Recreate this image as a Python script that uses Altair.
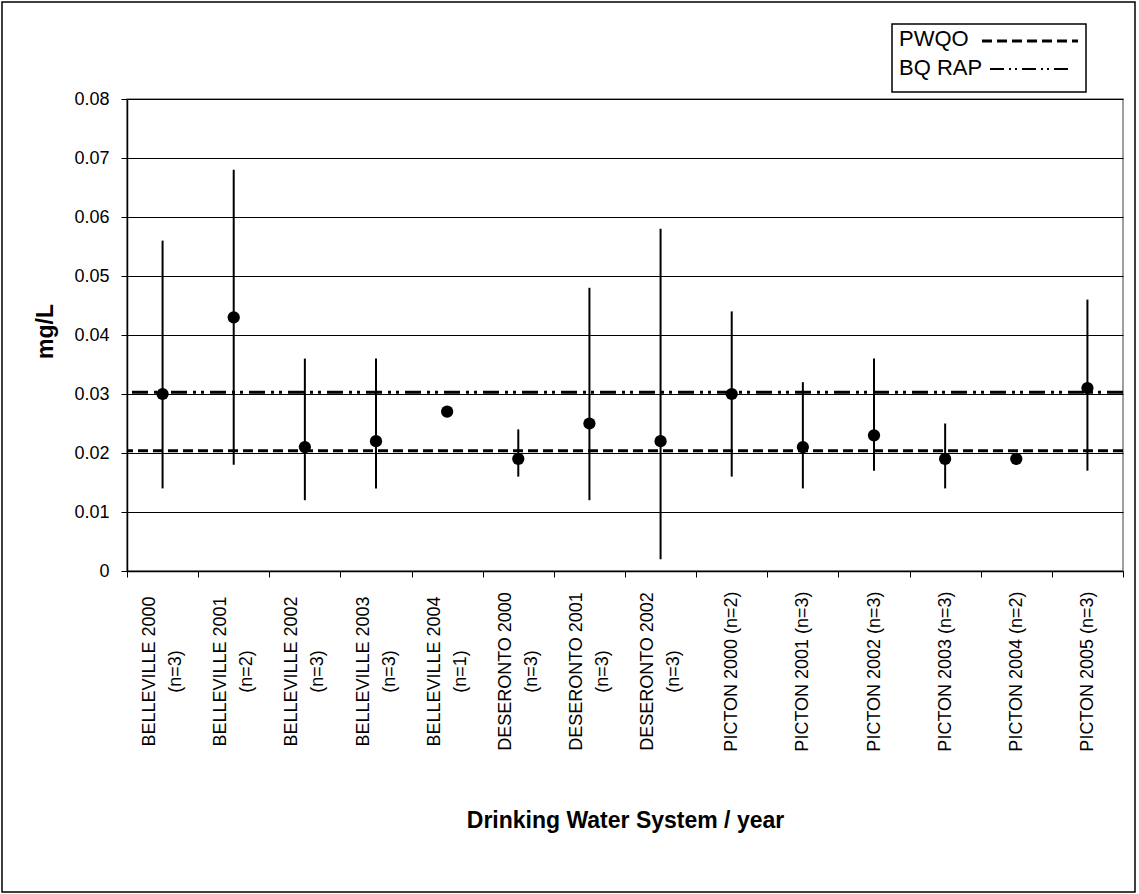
import altair as alt
import pandas as pd

categories = [
    "BELLEVILLE 2000|(n=3)", "BELLEVILLE 2001|(n=2)", "BELLEVILLE 2002|(n=3)",
    "BELLEVILLE 2003|(n=3)", "BELLEVILLE 2004|(n=1)", "DESERONTO 2000|(n=3)",
    "DESERONTO 2001|(n=3)", "DESERONTO 2002|(n=3)", "PICTON 2000 (n=2)",
    "PICTON 2001 (n=3)", "PICTON 2002 (n=3)", "PICTON 2003 (n=3)",
    "PICTON 2004 (n=2)", "PICTON 2005 (n=3)",
]
means = [0.030, 0.043, 0.021, 0.022, 0.027, 0.019, 0.025, 0.022,
         0.030, 0.021, 0.023, 0.019, 0.019, 0.031]
lows = [0.014, 0.018, 0.012, 0.014, None, 0.016, 0.012, 0.002,
        0.016, 0.014, 0.017, 0.014, 0.018, 0.017]
highs = [0.056, 0.068, 0.036, 0.036, None, 0.024, 0.048, 0.058,
         0.044, 0.032, 0.036, 0.025, 0.020, 0.046]

ref_names = ["PWQO", "BQ RAP"]
ref_values = [0.0204, 0.0303]
y_ticks = [0, 0.01, 0.02, 0.03, 0.04, 0.05, 0.06, 0.07, 0.08]

FONT = "Liberation Sans"
W, H = 996, 472

df = pd.DataFrame({"cat": categories, "mean": means, "lo": lows, "hi": highs})
df_err = df.dropna(subset=["lo", "hi"])

x_enc = alt.X(
    "cat:N", sort=categories,
    scale=alt.Scale(paddingInner=0, paddingOuter=0),
    axis=alt.Axis(
        title="Drinking Water System / year",
        labelExpr="split(datum.label, '|')",
        labelAngle=-90, labelAlign="center", labelBaseline="middle",
        labelOffset=alt.condition("indexof(datum.label, '|') >= 0", alt.value(-13), alt.value(0)),
        labelPadding=94, labelFontSize=18, labelLineHeight=26,
        labelLimit=400, labelOverlap=False, labelFlush=False,
        labelColor="black", labelFont=FONT,
        tickBand="extent", tickSize=6, tickColor="black",
        domainColor="black", domainWidth=1.5,
        titleFont=FONT, titleFontSize=23, titleFontWeight="bold",
        titleColor="black", titleY=249, titleBaseline="middle",
        grid=False,
    ),
)
y_scale = alt.Scale(domain=[0, 0.08], nice=False, zero=True)
y_axis = alt.Axis(
    title="mg/L", values=y_ticks,
    labelExpr="datum.value == 0 ? '0' : format(datum.value, '.2f')",
    labelFont=FONT, labelFontSize=18, labelColor="black", labelPadding=12,
    tickSize=6, tickColor="black", domainColor="black", domainWidth=1.5,
    grid=True, gridColor="black", gridWidth=1,
    titleFont=FONT, titleFontSize=23, titleFontWeight="bold", titleColor="black",
    titleX=-82, titleY=232, titleAngle=270, titleAlign="center",
    titleBaseline="middle",
)

base = alt.Chart(df)

errbars = alt.Chart(df_err).mark_rule(color="black", strokeWidth=2).encode(
    x=x_enc,
    y=alt.Y("lo:Q", scale=y_scale, axis=y_axis),
    y2="hi:Q",
)

points = base.mark_point(filled=True, shape="circle", size=150, color="black", opacity=1).encode(
    x=alt.X("cat:N", sort=categories),
    y=alt.Y("mean:Q", scale=y_scale),
)

ref_df = pd.DataFrame({"name": ref_names, "value": ref_values})
pwqo = alt.Chart(ref_df[ref_df["name"] == "PWQO"]).mark_rule(
    color="black", strokeWidth=3, strokeDash=[10, 5]
).encode(y=alt.Y("value:Q", scale=y_scale))
bqrap = alt.Chart(ref_df[ref_df["name"] == "BQ RAP"]).mark_rule(
    color="black", strokeWidth=3, strokeDash=[16, 6, 3, 5, 3, 6]
).encode(y=alt.Y("value:Q", scale=y_scale))

one = pd.DataFrame({"a": [0]})
legend_box = alt.Chart(one).mark_rect(fill="white", stroke="black", strokeWidth=1.5).encode(
    x=alt.value(765), x2=alt.value(959), y=alt.value(-75), y2=alt.value(-7)
)
leg_text1 = alt.Chart(one).mark_text(
    text=ref_names[0], align="left", baseline="middle", font=FONT, fontSize=22, color="black"
).encode(x=alt.value(772), y=alt.value(-60))
leg_text2 = alt.Chart(one).mark_text(
    text=ref_names[1], align="left", baseline="middle", font=FONT, fontSize=22, color="black"
).encode(x=alt.value(772), y=alt.value(-31))
leg_line1 = alt.Chart(one).mark_rule(color="black", strokeWidth=3, strokeDash=[10, 5]).encode(
    x=alt.value(855), x2=alt.value(951), y=alt.value(-58)
)
leg_line2 = alt.Chart(one).mark_rule(color="black", strokeWidth=2, strokeDash=[14, 5, 2, 4, 2, 5]).encode(
    x=alt.value(863), x2=alt.value(946), y=alt.value(-30)
)
outer = alt.Chart(one).mark_rect(fill=None, stroke="black", strokeWidth=1.5).encode(
    x=alt.value(-125), x2=alt.value(1008), y=alt.value(-97), y2=alt.value(793)
)

chart = alt.layer(
    errbars, pwqo, bqrap, points,
    legend_box, leg_text1, leg_text2, leg_line1, leg_line2, outer,
).properties(
    width=W, height=H,
    autosize=alt.AutoSizeParams(type="none"),
    padding={"left": 127, "top": 99, "right": 16, "bottom": 323},
    background="white",
).configure_view(stroke="#808080", strokeWidth=1.5)

chart.save("out.html", embed_options={"renderer": "svg", "actions": False})
